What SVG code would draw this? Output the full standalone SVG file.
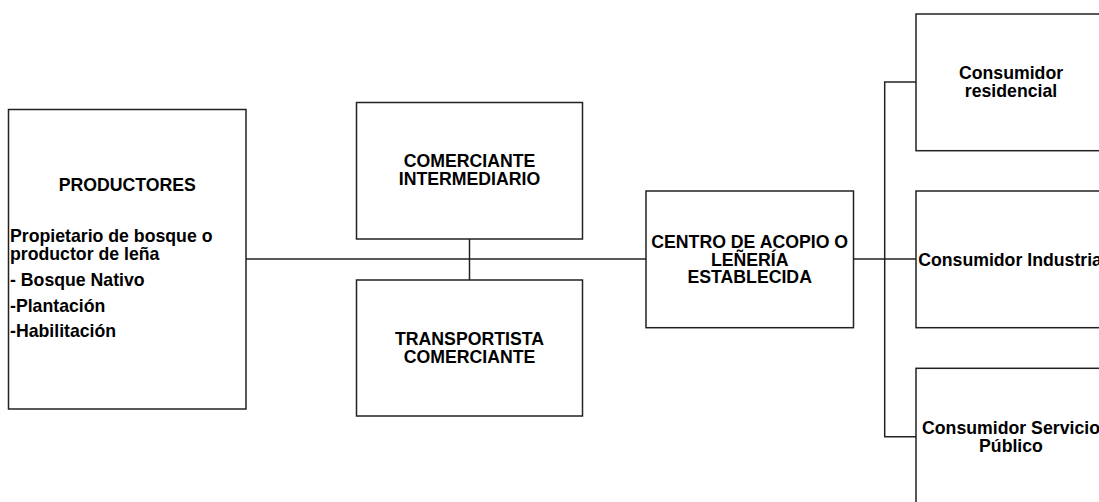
<svg xmlns="http://www.w3.org/2000/svg" width="1099" height="502" viewBox="0 0 1099 502">
<style>
.box{fill:#fff;stroke:#222;stroke-width:1.5}
.ln{fill:none;stroke:#222;stroke-width:1.5}
text{font-family:"Liberation Sans",Arial,Helvetica,sans-serif;font-weight:bold;font-size:17.7px;fill:#000}
.c{text-anchor:middle}
</style>
<rect width="1099" height="502" fill="#fff"/>
<g id="connectors">
<path class="ln" d="M246 259H646"/>
<path class="ln" d="M469.5 239V280"/>
<path class="ln" d="M853.5 259H916"/>
<path class="ln" d="M916 82H884.7V436.7H916"/>
</g>
<g id="productores">
<rect class="box" x="8.5" y="109.5" width="237.5" height="299.5"/>
<text class="c" x="127.3" y="191">PRODUCTORES</text>
<text x="10" y="242">Propietario de bosque o</text>
<text x="10" y="259.5">productor de leña</text>
<text x="10" y="286">- Bosque Nativo</text>
<text x="10" y="311.5">-Plantación</text>
<text x="10" y="337">-Habilitación</text>
</g>
<g id="comerciante">
<rect class="box" x="356.5" y="102.5" width="226" height="136.5"/>
<text class="c" x="469.5" y="167.3">COMERCIANTE</text>
<text class="c" x="469.5" y="185">INTERMEDIARIO</text>
</g>
<g id="transportista">
<rect class="box" x="356.5" y="280" width="226" height="136"/>
<text class="c" x="469.5" y="345">TRANSPORTISTA</text>
<text class="c" x="469.5" y="362.7">COMERCIANTE</text>
</g>
<g id="centro">
<rect class="box" x="646" y="191" width="207.5" height="136.7"/>
<text class="c" x="749.7" y="248">CENTRO DE ACOPIO O</text>
<text class="c" x="749.7" y="265.7">LEÑERÍA</text>
<text class="c" x="749.7" y="283.3">ESTABLECIDA</text>
</g>
<g id="residencial">
<rect class="box" x="916" y="14" width="190" height="136.7"/>
<text class="c" x="1011" y="79">Consumidor</text>
<text class="c" x="1011" y="97">residencial</text>
</g>
<g id="industrial">
<rect class="box" x="916" y="191" width="190" height="136.7"/>
<text class="c" x="1012.5" y="265.6">Consumidor Industrial</text>
</g>
<g id="servicio">
<rect class="box" x="916" y="368.3" width="190" height="136.7"/>
<text class="c" x="1011" y="434">Consumidor Servicio</text>
<text class="c" x="1011" y="451.7">Público</text>
</g>
</svg>
